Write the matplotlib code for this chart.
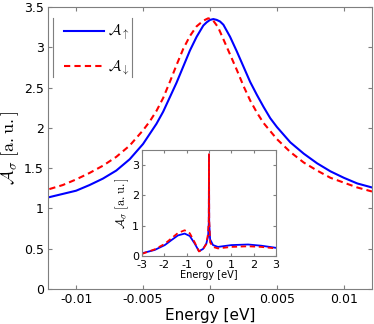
import matplotlib
matplotlib.use("Agg")
import matplotlib.pyplot as plt

plt.rcParams['font.family'] = ['DejaVu Sans']
plt.rcParams['mathtext.fontset'] = 'cm'
plt.rcParams['axes.unicode_minus'] = False

# Main panel data (energy in eV, spectral function in a.u.)
E_up = [-0.0120, -0.0110, -0.0100, -0.0090, -0.0080, -0.0070, -0.0060, -0.0050,
        -0.0040, -0.0035, -0.0030, -0.0025, -0.0020, -0.0015, -0.0010, -0.0005,
        -0.00025, 0.0, 0.00025, 0.0005, 0.00075, 0.0010, 0.0015, 0.0020, 0.0025,
        0.0030, 0.0035, 0.0040, 0.0045, 0.0050, 0.0060, 0.0070, 0.0080, 0.0090,
        0.0100, 0.0110, 0.0121]
A_up = [1.14, 1.18, 1.22, 1.29, 1.37, 1.47, 1.61, 1.80,
        2.05, 2.20, 2.38, 2.56, 2.76, 2.96, 3.13, 3.27,
        3.31, 3.34, 3.35, 3.34, 3.32, 3.28, 3.13, 2.95, 2.76,
        2.57, 2.41, 2.26, 2.12, 2.01, 1.82, 1.68, 1.56, 1.46,
        1.38, 1.31, 1.26]

E_dn = [-0.0120, -0.0110, -0.0100, -0.0090, -0.0080, -0.0070, -0.0060, -0.0050,
        -0.0045, -0.0040, -0.0035, -0.0030, -0.0025, -0.0020, -0.0015, -0.0010,
        -0.0005, -0.00013, 0.0002, 0.0006, 0.0010, 0.0015, 0.0020, 0.0025,
        0.0030, 0.0035, 0.0040, 0.0050, 0.0060, 0.0070, 0.0080, 0.0090,
        0.0100, 0.0110, 0.0121]
A_dn = [1.24, 1.29, 1.36, 1.44, 1.53, 1.64, 1.78, 1.97,
        2.08, 2.21, 2.37, 2.57, 2.78, 2.98, 3.14, 3.26,
        3.33, 3.36, 3.34, 3.25, 3.10, 2.91, 2.72, 2.52,
        2.34, 2.19, 2.06, 1.86, 1.70, 1.57, 1.47, 1.38,
        1.32, 1.26, 1.21]

# Inset data (wide energy range)
Ei_up = [-3.0, -2.43, -1.98, -1.69, -1.39, -1.09, -0.86, -0.64, -0.45, -0.27,
         -0.12, -0.04, -0.01, 0.0, 0.01, 0.05, 0.18, 0.4, 1.0, 1.75, 2.34, 3.0]
Ai_up = [0.09, 0.20, 0.36, 0.52, 0.68, 0.74, 0.66, 0.41, 0.16, 0.23,
         0.41, 0.65, 1.1, 3.35, 1.1, 0.55, 0.36, 0.30, 0.36, 0.38, 0.34, 0.27]
Ei_dn = [-3.0, -2.43, -1.98, -1.69, -1.39, -1.09, -0.86, -0.64, -0.45, -0.27,
         -0.12, -0.04, -0.01, 0.0, 0.01, 0.05, 0.18, 0.4, 1.0, 1.75, 2.34, 3.0]
Ai_dn = [0.07, 0.22, 0.40, 0.58, 0.76, 0.85, 0.75, 0.45, 0.15, 0.22,
         0.40, 0.75, 1.2, 3.36, 1.2, 0.45, 0.30, 0.25, 0.30, 0.32, 0.30, 0.25]

xticks = [-0.01, -0.005, 0, 0.005, 0.01]
xticklabels = ['-0.01', '-0.005', '0', '0.005', '0.01']
yticks = [0, 0.5, 1, 1.5, 2, 2.5, 3, 3.5]
yticklabels = ['0', '0.5', '1', '1.5', '2', '2.5', '3', '3.5']

blue = '#0000ff'
red = '#ff0000'
spine_col = '#7f7f7f'

fig = plt.figure(figsize=(3.74, 3.24), dpi=100)
ax = fig.add_axes([48/374, 35/324, 324/374, 282/324])
ax.plot(E_up, A_up, color=blue, lw=1.5, label=r'$\mathcal{A}_\uparrow$')
ax.plot(E_dn, A_dn, color=red, lw=1.5, ls=(0, (3, 2)), label=r'$\mathcal{A}_\downarrow$')
ax.set_xlim(-0.0121, 0.0121)
ax.set_ylim(0, 3.5)
ax.set_xticks(xticks)
ax.set_xticklabels(xticklabels)
ax.set_yticks(yticks)
ax.set_yticklabels(yticklabels)
ax.tick_params(direction='in', top=True, right=True, labelsize=9, length=3,
               color=spine_col, pad=3)
for s in ax.spines.values():
    s.set_color(spine_col)
    s.set_linewidth(0.8)
ax.set_xlabel('Energy [eV]', fontsize=11, labelpad=1)
ax.set_ylabel(r'$\mathcal{A}_\sigma\ \mathrm{[a.u.]}$', fontsize=13, labelpad=2)

leg = ax.legend(loc='upper left', bbox_to_anchor=(0.03, 0.965), frameon=False,
                fontsize=11, handlelength=2.6, labelspacing=1.05, handletextpad=0.3,
                borderaxespad=0)
# legend side borders
ax.plot([0.0154, 0.0154], [0.752, 0.961], transform=ax.transAxes, color=spine_col, lw=0.8)
ax.plot([0.259, 0.259], [0.752, 0.961], transform=ax.transAxes, color=spine_col, lw=0.8)

# Inset
axi = fig.add_axes([142/374, 68/324, 134/374, 106/324])
axi.plot(Ei_up, Ai_up, color=blue, lw=1.3)
axi.plot(Ei_dn, Ai_dn, color=red, lw=1.3, ls=(0, (3, 2)))
axi.set_xlim(-3, 3)
axi.set_ylim(0, 3.5)
axi.set_xticks([-3, -2, -1, 0, 1, 2, 3])
axi.set_yticks([0, 1, 2, 3])
axi.tick_params(direction='in', top=True, right=True, labelsize=8, length=2.5,
                color=spine_col)
axi.tick_params(axis='x', pad=3)
axi.tick_params(axis='y', pad=2)
for s in axi.spines.values():
    s.set_color(spine_col)
    s.set_linewidth(0.8)
axi.set_xlabel('Energy [eV]', fontsize=7, labelpad=0)
axi.set_ylabel(r'$\mathcal{A}_\sigma\ \mathrm{[a.u.]}$', fontsize=9, labelpad=1)

fig.savefig('out.png', dpi=100)
